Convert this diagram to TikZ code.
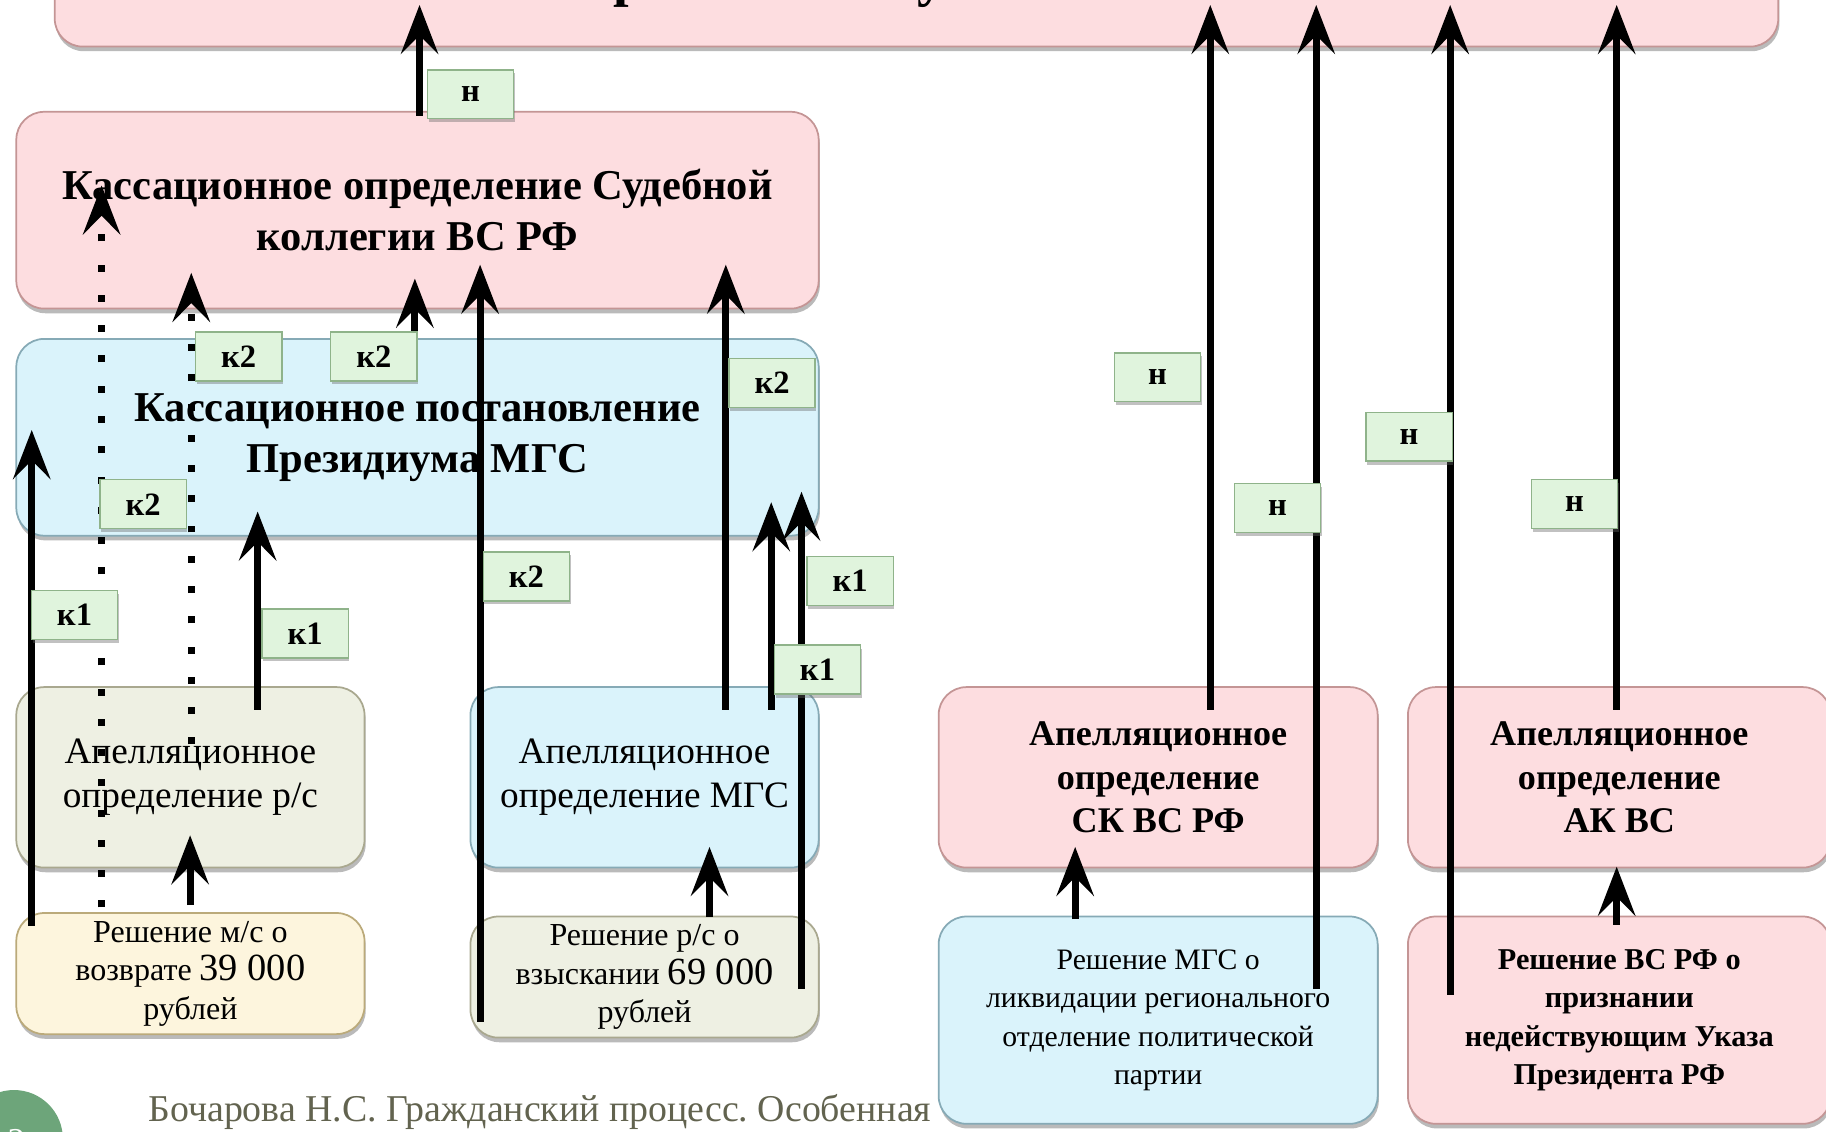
\documentclass[tikz,border=0pt]{standalone}
\usepackage{fontspec}
\setmainfont{Liberation Serif}
\frenchspacing
\usetikzlibrary{arrows.meta,shadows}
\definecolor{pinkf}{HTML}{FDDDE0}
\definecolor{pinkd}{HTML}{C49595}
\definecolor{bluef}{HTML}{DAF3FB}
\definecolor{blued}{HTML}{86AAB6}
\definecolor{greyf}{HTML}{EEF0E3}
\definecolor{greyd}{HTML}{A9A88F}
\definecolor{yelf}{HTML}{FDF5DD}
\definecolor{yeld}{HTML}{BBAA7A}
\definecolor{lblf}{HTML}{E0F4DD}
\definecolor{lbld}{HTML}{8FB38A}
\definecolor{foot}{HTML}{62634F}
\definecolor{circ}{HTML}{6DA57A}
\begin{document}
\begin{tikzpicture}[x=1pt,y=-1pt,
  box/.style={rounded corners=24pt, line width=1.5pt, align=center, inner sep=0pt,
    drop shadow={shadow xshift=1pt, shadow yshift=-4pt, opacity=0.45, fill=black!60}},
  pinkbox/.style={box, draw=pinkd, fill=pinkf},
  bluebox/.style={box, draw=blued, fill=bluef},
  greybox/.style={box, draw=greyd, fill=greyf},
  yelbox/.style={box, draw=yeld, fill=yelf},
  bigbold/.style={font=\bfseries\fontsize{36.5}{44}\selectfont},
  midreg/.style={font=\fontsize{32}{38}\selectfont},
  midbold/.style={font=\bfseries\fontsize{31}{37.5}\selectfont},
  smallreg/.style={font=\fontsize{25.5}{33}\selectfont},
  smallbold/.style={font=\bfseries\fontsize{26}{33}\selectfont},
  lbl/.style={draw=lbld, fill=lblf, line width=1.2pt, minimum width=74pt, minimum height=42pt,
    inner sep=0pt, font=\bfseries\fontsize{28}{28}\selectfont,
    drop shadow={shadow xshift=1pt, shadow yshift=-3pt, opacity=0.4, fill=black!60}},
  arr/.style={line width=6pt, -{Stealth[length=42pt,width=32pt,inset=16pt]}},
  dotarr/.style={line width=6pt, dash pattern=on 6pt off 20pt, -{Stealth[length=42pt,width=32pt,inset=16pt]}}
]
\useasboundingbox (0,0) rectangle (1568,972);
\fill[white] (0,0) rectangle (1568,972);

% boxes
\node[pinkbox, minimum width=1480pt, minimum height=140pt] (top) at (787,-30) {};
\node[anchor=base, font=\bfseries\fontsize{48}{48}\selectfont] (frag1) at (540,-4) {р};
\node[anchor=base, font=\bfseries\fontsize{48}{48}\selectfont] (frag2) at (800,-4) {у};

\node[pinkbox, bigbold, minimum width=689pt, minimum height=169pt] (b2) at (358.5,180.5)
  {Кассационное определение Судебной\\коллегии ВС РФ};
\node[bluebox, bigbold, minimum width=689pt, minimum height=169pt] (b3) at (358.5,375.5)
  {Кассационное постановление\\Президиума МГС};
\node[greybox, midreg, minimum width=299pt, minimum height=155pt] (b4) at (163.5,667.5)
  {Апелляционное\\определение р/с};
\node[bluebox, midreg, minimum width=299pt, minimum height=155pt] (b5) at (553.5,667.5)
  {Апелляционное\\определение МГС};
\node[yelbox, font=\fontsize{27.5}{33}\selectfont, minimum width=299pt, minimum height=104pt] (b6) at (163.5,836)
  {Решение м/с о\\возврате {\fontsize{33}{33}\selectfont 39 000}\\рублей};
\node[greybox, font=\fontsize{27.5}{33}\selectfont, minimum width=299pt, minimum height=104pt] (b7) at (553.5,839)
  {Решение р/с о\\взыскании {\fontsize{33}{33}\selectfont 69 000}\\рублей};
\node[pinkbox, midbold, minimum width=377pt, minimum height=155pt] (b8) at (994.5,667.5)
  {Апелляционное\\определение\\СК ВС РФ};
\node[pinkbox, midbold, minimum width=363pt, minimum height=155pt] (b9) at (1390.5,667.5)
  {Апелляционное\\определение\\АК ВС};
\node[bluebox, smallreg, minimum width=377pt, minimum height=178pt] (b10) at (994.5,876)
  {Решение МГС о\\ликвидации регионального\\отделение политической\\партии};
\node[pinkbox, smallbold, minimum width=363pt, minimum height=178pt] (b11) at (1390.5,876)
  {Решение ВС РФ о\\признании\\недействующим Указа\\Президента РФ};

% arrows
\draw[arr] ([shift={(347,4)}]b2.north west) -- ([shift={(314,105)}]top.north west);
\draw[arr] ([shift={(14,12)}]b6.north west) -- ([shift={(14,79)}]b3.north west);
\draw[dotarr] ([shift={(74,-4)}]b6.north west) -- ([shift={(74,64)}]b2.north west);
\draw[dotarr] ([shift={(151,50)}]b4.north west) -- ([shift={(151,139)}]b2.north west);
\draw[arr] ([shift={(208,20)}]b4.north west) -- ([shift={(208,149)}]b3.north west);
\draw[arr] ([shift={(150,-6)}]b6.north west) -- ([shift={(150,128)}]b4.north west);
\draw[arr] ([shift={(343,9)}]b3.north west) -- ([shift={(343,144)}]b2.north west);
\draw[arr] ([shift={(9,91)}]b7.north west) -- ([shift={(399,132)}]b2.north west);
\draw[arr] ([shift={(220,20)}]b5.north west) -- ([shift={(610,132)}]b2.north west);
\draw[arr] ([shift={(259,20)}]b5.north west) -- ([shift={(649,141)}]b3.north west);
\draw[arr] ([shift={(285,63)}]b7.north west) -- ([shift={(675,132)}]b3.north west);
\draw[arr] ([shift={(206,1)}]b7.north west) -- ([shift={(206,138)}]b5.north west);
\draw[arr] ([shift={(234,20)}]b8.north west) -- ([shift={(993,105)}]top.north west);
\draw[arr] ([shift={(325,63)}]b10.north west) -- ([shift={(1084,105)}]top.north west);
\draw[arr] ([shift={(37,68)}]b11.north west) -- ([shift={(1199,105)}]top.north west);
\draw[arr] ([shift={(180,20)}]b9.north west) -- ([shift={(1342,105)}]top.north west);
\draw[arr] ([shift={(118,3)}]b10.north west) -- ([shift={(118,138)}]b8.north west);
\draw[arr] ([shift={(180,8)}]b11.north west) -- ([shift={(180,155)}]b9.north west);

% labels
\node[lbl] (l1) at (404,81) {н};
\node[lbl] (l2) at (205,306) {к2};
\node[lbl] (l3) at (321,306) {к2};
\node[lbl] (l4) at (663,329) {к2};
\node[lbl] (l5) at (123,433) {к2};
\node[lbl] (l6) at (452,495) {к2};
\node[lbl] (l7) at (730,499) {к1};
\node[lbl] (l8) at (64,528) {к1};
\node[lbl] (l9) at (262,544) {к1};
\node[lbl] (l10) at (702,575) {к1};
\node[lbl] (l11) at (994,324) {н};
\node[lbl] (l12) at (1097,436) {н};
\node[lbl] (l13) at (1210,375) {н};
\node[lbl] (l14) at (1352,433) {н};

% footer
\fill[circ] (12,978) circle (42);
\node[text=white, font=\fontsize{30}{30}\selectfont] (pg) at (14,980) {2};
\node[text=foot, font=\fontsize{32.5}{32.5}\selectfont, anchor=base west] (foot) at (124,963)
  {Бочарова Н.С. Гражданский процесс. Особенная};
\end{tikzpicture}
\end{document}
